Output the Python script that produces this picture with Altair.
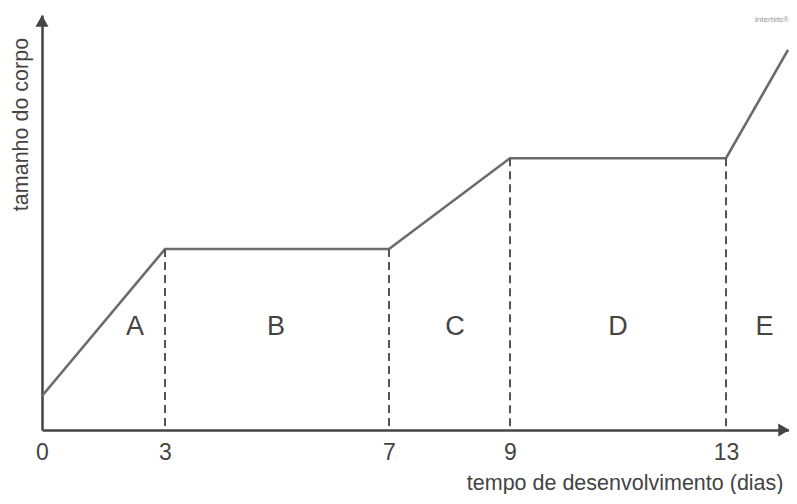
import altair as alt
import pandas as pd

# ---- data ----
dias = [0, 3, 7, 9, 13, 14.21]
tamanho = [0.82, 4.36, 4.36, 6.55, 6.55, 9.16]
marcos = [3, 7, 9, 13]
marcos_altura = [4.36, 4.36, 6.55, 6.55]
rotulos_x = [0, 3, 7, 9, 13]
fases = ["A", "B", "C", "D", "E"]
fases_x = [2.27, 4.98, 8.09, 11.0, 13.75]
fases_y = [2.48, 2.48, 2.48, 2.48, 2.48]
x_max = 14.23
y_max = 10
marca = ["Interbits®"]

FONT = "Liberation Sans"
TXT = "#444444"

x_scale = alt.Scale(domain=[0, 3, 7, 9, 13, x_max],
                    range=[0, 123, 347, 468, 684, 747],
                    nice=False, zero=False)
y_scale = alt.Scale(domain=[0, y_max], nice=False, zero=False)

df_line = pd.DataFrame({"dias": dias, "tamanho": tamanho})
df_rules = pd.DataFrame({"dia": marcos, "altura": marcos_altura})
df_fases = pd.DataFrame({"x": fases_x, "y": fases_y, "fase": fases})

line = alt.Chart(df_line).mark_line(color="#6b6b6b", strokeWidth=2.6).encode(
    x=alt.X("dias:Q", scale=x_scale,
            axis=alt.Axis(values=rotulos_x, ticks=False, grid=False,
                          domain=True, domainColor=TXT, domainWidth=2.5,
                          labelFont=FONT, labelFontSize=23, labelColor=TXT,
                          labelPadding=11, labelFlush=False, labelOverlap=False,
                          title="tempo de desenvolvimento (dias)",
                          titleFont=FONT, titleFontSize=21.5, titleFontWeight="normal",
                          titleColor=TXT, titleAlign="right", titleAnchor="end",
                          titleX=741, titleY=59, titleBaseline="alphabetic")),
    y=alt.Y("tamanho:Q", scale=y_scale,
            axis=alt.Axis(labels=False, ticks=False, grid=False,
                          domain=True, domainColor=TXT, domainWidth=2.5,
                          title="tamanho do corpo",
                          titleFont=FONT, titleFontSize=21.5, titleFontWeight="normal",
                          titleColor=TXT, titleAngle=270, titleAlign="center",
                          titleBaseline="middle", titleX=-21, titleY=109)),
)

rules = alt.Chart(df_rules).mark_rule(color="#555555", strokeWidth=2, strokeDash=[8, 5]).encode(
    x=alt.X("dia:Q", scale=x_scale),
    y=alt.Y("altura:Q", scale=y_scale),
    y2=alt.datum(0),
)

letters = alt.Chart(df_fases).mark_text(font=FONT, fontSize=27, color=TXT).encode(
    x=alt.X("x:Q", scale=x_scale),
    y=alt.Y("y:Q", scale=y_scale),
    text="fase:N",
)

arrow_x = alt.Chart(pd.DataFrame({"x": [x_max - 0.1], "y": [0]})).mark_point(
    shape="triangle-right", filled=True, size=170, color=TXT, opacity=1).encode(
    x=alt.X("x:Q", scale=x_scale), y=alt.Y("y:Q", scale=y_scale))

arrow_y = alt.Chart(pd.DataFrame({"x": [0], "y": [y_max - 0.145]})).mark_point(
    shape="triangle-up", filled=True, size=170, color=TXT, opacity=1).encode(
    x=alt.X("x:Q", scale=x_scale), y=alt.Y("y:Q", scale=y_scale))

stamp = alt.Chart(pd.DataFrame({"x": [x_max], "y": [9.88], "t": marca})).mark_text(
    font=FONT, fontSize=8, color="#999999", align="right").encode(
    x=alt.X("x:Q", scale=x_scale), y=alt.Y("y:Q", scale=y_scale), text="t:N")

chart = alt.layer(line, rules, letters, arrow_x, arrow_y, stamp).properties(
    width=747, height=415,
    background="white",
    autosize=alt.AutoSizeParams(type="none"),
    padding={"left": 34, "top": 7, "right": 0, "bottom": 64},
).configure_view(strokeWidth=0)

chart.save("out.html", embed_options={"renderer": "svg", "actions": False})
